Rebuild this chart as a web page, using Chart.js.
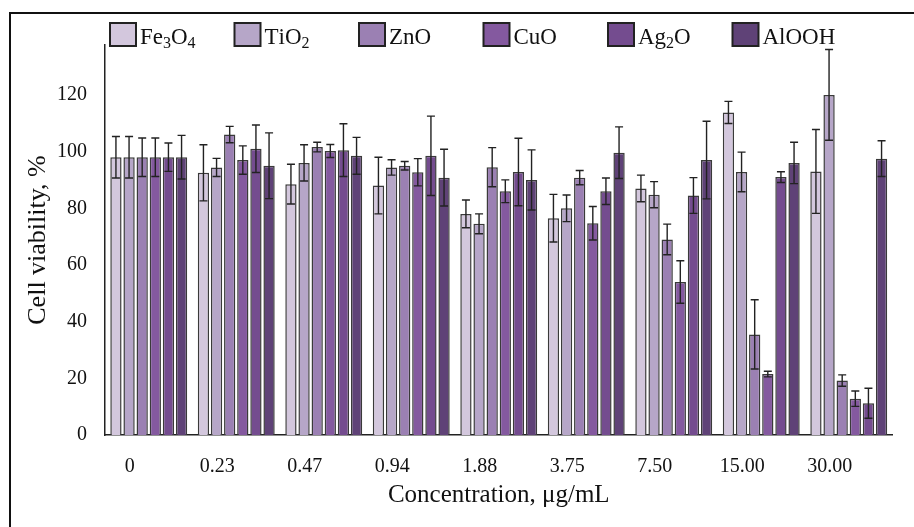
<!DOCTYPE html>
<html><head><meta charset="utf-8">
<script src="https://cdn.jsdelivr.net/npm/chart.js@4.4.0/dist/chart.umd.min.js"></script>
<style>
html,body{margin:0;padding:0;background:#fff;}
canvas{display:block;}
</style></head><body>
<canvas id="c" width="914" height="527"></canvas>
<script>
// ---- data ----
const concentrations = ['0','0.23','0.47','0.94','1.88','3.75','7.50','15.00','30.00'];
const seriesNames = ['Fe₃O₄','TiO₂','ZnO','CuO','Ag₂O','AlOOH'];
const yTicks = [0,20,40,60,80,100,120];

const fe3o4    = [98, 92.5, 88.5, 88,   78,   76.5, 87,   113.8, 93];
const fe3o4Err = [7.3, 9.9, 7,    10,   4.9,  8.4,  4.7,  3.9,   14.8];
const tio2     = [98, 94.4, 96,   94.4, 74.5, 80,   84.8, 92.8,  120];
const tio2Err  = [7.3, 3.2, 6.4,  2.7,  3.5,  4.7,  4.6,  7,     16];
const zno      = [98, 106,  101.6,95,   94.5, 90.8, 69,   35.5,  19.2];
const znoErr   = [6.8, 2.9, 1.7,  1.5,  6.9,  2.5,  5.4,  12.2,  2];
const cuo      = [98, 97,   100.2,92.7, 86,   74.7, 54,   21.5,  12.8];
const cuoErr   = [6.8, 5,   2.3,  4.8,  4,    5.9,  7.5,  1,     2.7];
const ag2o     = [98, 101,  100.5,98.5, 92.8, 86,   84.5, 91,    11.2];
const ag2oErr  = [5,   8.4, 9.3,  14,   11.9, 4.7,  6.3,  1.9,   5.3];
const alooh    = [98, 95,   98.5, 90.8, 90,   99.6, 97,   96,    97.5];
const aloohErr = [7.7, 11.6,6.5,  10,   10.6, 9.1,  13.7, 7.3,   6.3];

const seriesValues = [fe3o4, tio2, zno, cuo, ag2o, alooh];
const seriesErrors = [fe3o4Err, tio2Err, znoErr, cuoErr, ag2oErr, aloohErr];
const seriesColors = ['#d3c7dd','#b6a6c8','#9b80b3','#84599f','#744c8f','#5f4277'];

const SERIF = "'Liberation Serif','Times New Roman',serif";

const errorBars = {
  id:'errorBars',
  afterDatasetsDraw(chart){
    const ctx = chart.ctx, y = chart.scales.y;
    ctx.save();
    ctx.strokeStyle = '#222';
    ctx.lineWidth = 1.4;
    chart.data.datasets.forEach((ds,i)=>{
      const meta = chart.getDatasetMeta(i);
      meta.data.forEach((el,j)=>{
        const v = ds.data[j], e = ds.errors[j];
        const yt = y.getPixelForValue(v+e), yb = y.getPixelForValue(v-e);
        const x = el.x, cw = 4;
        ctx.beginPath();
        ctx.moveTo(x,yt); ctx.lineTo(x,yb);
        ctx.moveTo(x-cw,yt); ctx.lineTo(x+cw,yt);
        ctx.moveTo(x-cw,yb); ctx.lineTo(x+cw,yb);
        ctx.stroke();
      });
    });
    ctx.restore();
  }
};

const SUB = {'₀':'0','₁':'1','₂':'2','₃':'3','₄':'4','₅':'5','₆':'6','₇':'7','₈':'8','₉':'9'};
const customLegend = {
  id:'customLegend',
  afterDraw(chart){
    const ctx = chart.ctx;
    const x0 = chart.chartArea.left + 5, pitch = 124.5;
    const boxW = 26, boxH = 23, boxTop = 23, baseline = 44;
    ctx.save();
    chart.data.datasets.forEach((ds,i)=>{
      const bx = x0 + i*pitch;
      ctx.fillStyle = ds.backgroundColor;
      ctx.fillRect(bx, boxTop, boxW, boxH);
      ctx.strokeStyle = '#222'; ctx.lineWidth = 2;
      ctx.strokeRect(bx, boxTop, boxW, boxH);
      let tx = bx + boxW + 4;
      ctx.fillStyle = '#111';
      ctx.textBaseline = 'alphabetic';
      for (const ch of ds.label){
        if (SUB[ch]){
          ctx.font = "16px " + SERIF;
          ctx.fillText(SUB[ch], tx, baseline + 4);
          tx += ctx.measureText(SUB[ch]).width;
        } else {
          ctx.font = "23px " + SERIF;
          ctx.fillText(ch, tx, baseline);
          tx += ctx.measureText(ch).width;
        }
      }
    });
    ctx.restore();
  }
};

const frame = {
  id:'frame',
  beforeDraw(chart){
    const ctx = chart.ctx;
    ctx.save();
    ctx.fillStyle = '#fff';
    ctx.fillRect(0,0,chart.width,chart.height);
    ctx.strokeStyle = '#111'; ctx.lineWidth = 2;
    ctx.beginPath();
    ctx.moveTo(10, chart.height); ctx.lineTo(10, 13); ctx.lineTo(chart.width, 13);
    ctx.stroke();
    ctx.restore();
  }
};

new Chart(document.getElementById('c'), {
  type:'bar',
  data:{
    labels: concentrations,
    datasets: seriesNames.map((n,i)=>({
      label:n, data:seriesValues[i], errors:seriesErrors[i],
      backgroundColor:seriesColors[i], borderColor:'#3a3a3a', borderWidth:1.5,
      categoryPercentage:0.9, barPercentage:0.86
    }))
  },
  options:{
    responsive:false, animation:false, devicePixelRatio:1,
    layout:{padding:{left:0,right:21.5,top:45,bottom:0}},
    plugins:{legend:{display:false}, tooltip:{enabled:false}},
    scales:{
      x:{
        grid:{display:false, drawTicks:false},
        border:{display:true, color:'#222', width:1.5},
        ticks:{font:{family:SERIF,size:20}, color:'#111', padding:20, labelOffset:-19, maxRotation:0, autoSkip:false},
        title:{display:true, text:'Concentration, μg/mL', font:{family:SERIF,size:25}, color:'#111', padding:{top:0,bottom:17}},
        afterFit(s){ s.height = 92; }
      },
      y:{
        min:0, max:137.6,
        afterBuildTicks(s){ s.ticks = yTicks.map(v=>({value:v})); },
        grid:{display:false, drawTicks:false},
        border:{display:true, color:'#222', width:1.5},
        ticks:{font:{family:SERIF,size:20}, color:'#111', padding:18},
        title:{display:true, text:'Cell viability, %', font:{family:SERIF,size:26}, color:'#111', padding:{top:23,bottom:0}},
        afterFit(s){ s.width = 105; }
      }
    }
  },
  plugins:[frame, errorBars, customLegend]
});
</script>
</body></html>
